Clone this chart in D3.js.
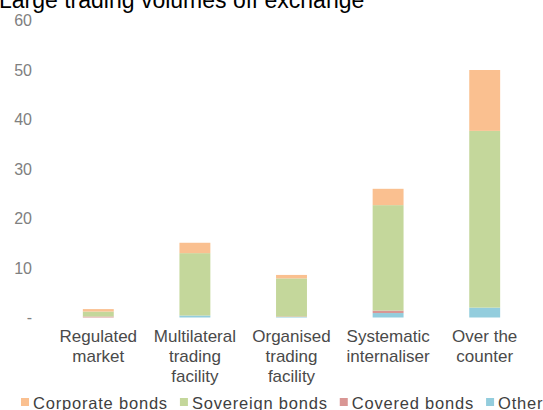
<!DOCTYPE html>
<html>
<head>
<meta charset="utf-8">
<script src="https://cdn.jsdelivr.net/npm/d3@7"></script>
<style>
  body { margin: 0; background: #fff; }
  svg { display: block; font-family: Arial, "Liberation Sans", sans-serif; }
</style>
</head>
<body>
<div id="chart"></div>
<script>
// Chart data
const categories = [
    ['Regulated', 'market'],
    ['Multilateral', 'trading', 'facility'],
    ['Organised', 'trading', 'facility'],
    ['Systematic', 'internaliser'],
    ['Over the', 'counter']
];
const other = [0, 0.4, 0.1, 0.9, 2.0];
const covered = [0.2, 0, 0.1, 0.5, 0];
const sovereign = [1.0, 12.6, 7.7, 21.3, 35.7];
const corporate = [0.5, 2.1, 0.7, 3.3, 12.3];
const yTicks = [0, 10, 20, 30, 40, 50, 60];

// Series, bottom to top of the stack
const series = [
    { key: 'other', label: 'Other', values: other, color: '#93CDDD' },
    { key: 'covered', label: 'Covered bonds', values: covered, color: '#D99694' },
    { key: 'sovereign', label: 'Sovereign bonds', values: sovereign, color: '#C4D79B' },
    { key: 'corporate', label: 'Corporate bonds', values: corporate, color: '#FAC090' }
];
const legendOrder = ['corporate', 'sovereign', 'covered', 'other'];

const width = 543;
const height = 410;

const svg = d3.select('#chart').append('svg')
    .attr('width', width)
    .attr('height', height);

// Build table rows for d3.stack
const rows = categories.map((c, i) => {
    const row = { name: c.join(' ') };
    series.forEach(s => { row[s.key] = s.values[i]; });
    return row;
});

const stacked = d3.stack().keys(series.map(s => s.key))(rows);

// Scales
const x = d3.scaleBand()
    .domain(rows.map(d => d.name))
    .range([50, 533])
    .paddingInner(0.68)
    .paddingOuter(0.34);

const y = d3.scaleLinear()
    .domain([0, 60])
    .range([317.5, 20.5]);

// Title (partly cut off at the top, as in the source)
svg.append('text')
    .attr('x', -1)
    .attr('y', 8)
    .attr('font-size', '23px')
    .attr('fill', '#000')
    .text('Large trading volumes off exchange');

// Y axis: labels only, no line or ticks
const yAxis = svg.append('g')
    .attr('transform', 'translate(32,0)')
    .call(d3.axisLeft(y)
        .tickValues(yTicks)
        .tickSize(0)
        .tickPadding(0)
        .tickFormat(d => d === 0 ? '-' : d));
yAxis.select('.domain').remove();
yAxis.selectAll('text')
    .attr('font-size', '16px')
    .attr('font-family', 'Arial, "Liberation Sans", sans-serif')
    .attr('fill', '#808080');

// Bars
const layers = svg.append('g').selectAll('g')
    .data(stacked)
    .enter()
    .append('g')
    .attr('fill', d => series.find(s => s.key === d.key).color);

layers.selectAll('rect')
    .data(d => d)
    .enter()
    .append('rect')
    .attr('x', d => x(d.data.name))
    .attr('width', x.bandwidth())
    .attr('y', d => y(d[1]))
    .attr('height', d => y(d[0]) - y(d[1]));

// X axis: multi-line category labels
const xAxis = svg.append('g')
    .attr('transform', 'translate(0,317.5)')
    .call(d3.axisBottom(x).tickSize(0).tickFormat(''));
xAxis.select('.domain').remove();

xAxis.selectAll('.tick').each(function(d, i) {
    const t = d3.select(this).select('text')
        .attr('y', 0)
        .attr('dy', null)
        .attr('font-size', '17px')
        .attr('font-family', 'Arial, "Liberation Sans", sans-serif')
        .attr('fill', '#4a4a4a');
    categories[i].forEach((line, j) => {
        t.append('tspan')
            .attr('x', 0)
            .attr('y', 24 + j * 20)
            .text(line);
    });
});

// Legend
const legend = svg.append('g')
    .attr('class', 'legend')
    .attr('transform', 'translate(21,409)');

let lx = 0;
legendOrder.forEach(key => {
    const s = series.find(d => d.key === key);
    const item = legend.append('g').attr('transform', `translate(${lx},0)`);
    item.append('rect')
        .attr('x', 0)
        .attr('y', -11)
        .attr('width', 8)
        .attr('height', 8)
        .attr('fill', s.color);
    const label = item.append('text')
        .attr('x', 12)
        .attr('y', 0)
        .attr('font-size', '16.5px')
        .attr('letter-spacing', '0.8px')
        .attr('fill', '#404040')
        .text(s.label);
    lx += 12 + label.node().getComputedTextLength() + 12;
});
</script>
</body>
</html>
